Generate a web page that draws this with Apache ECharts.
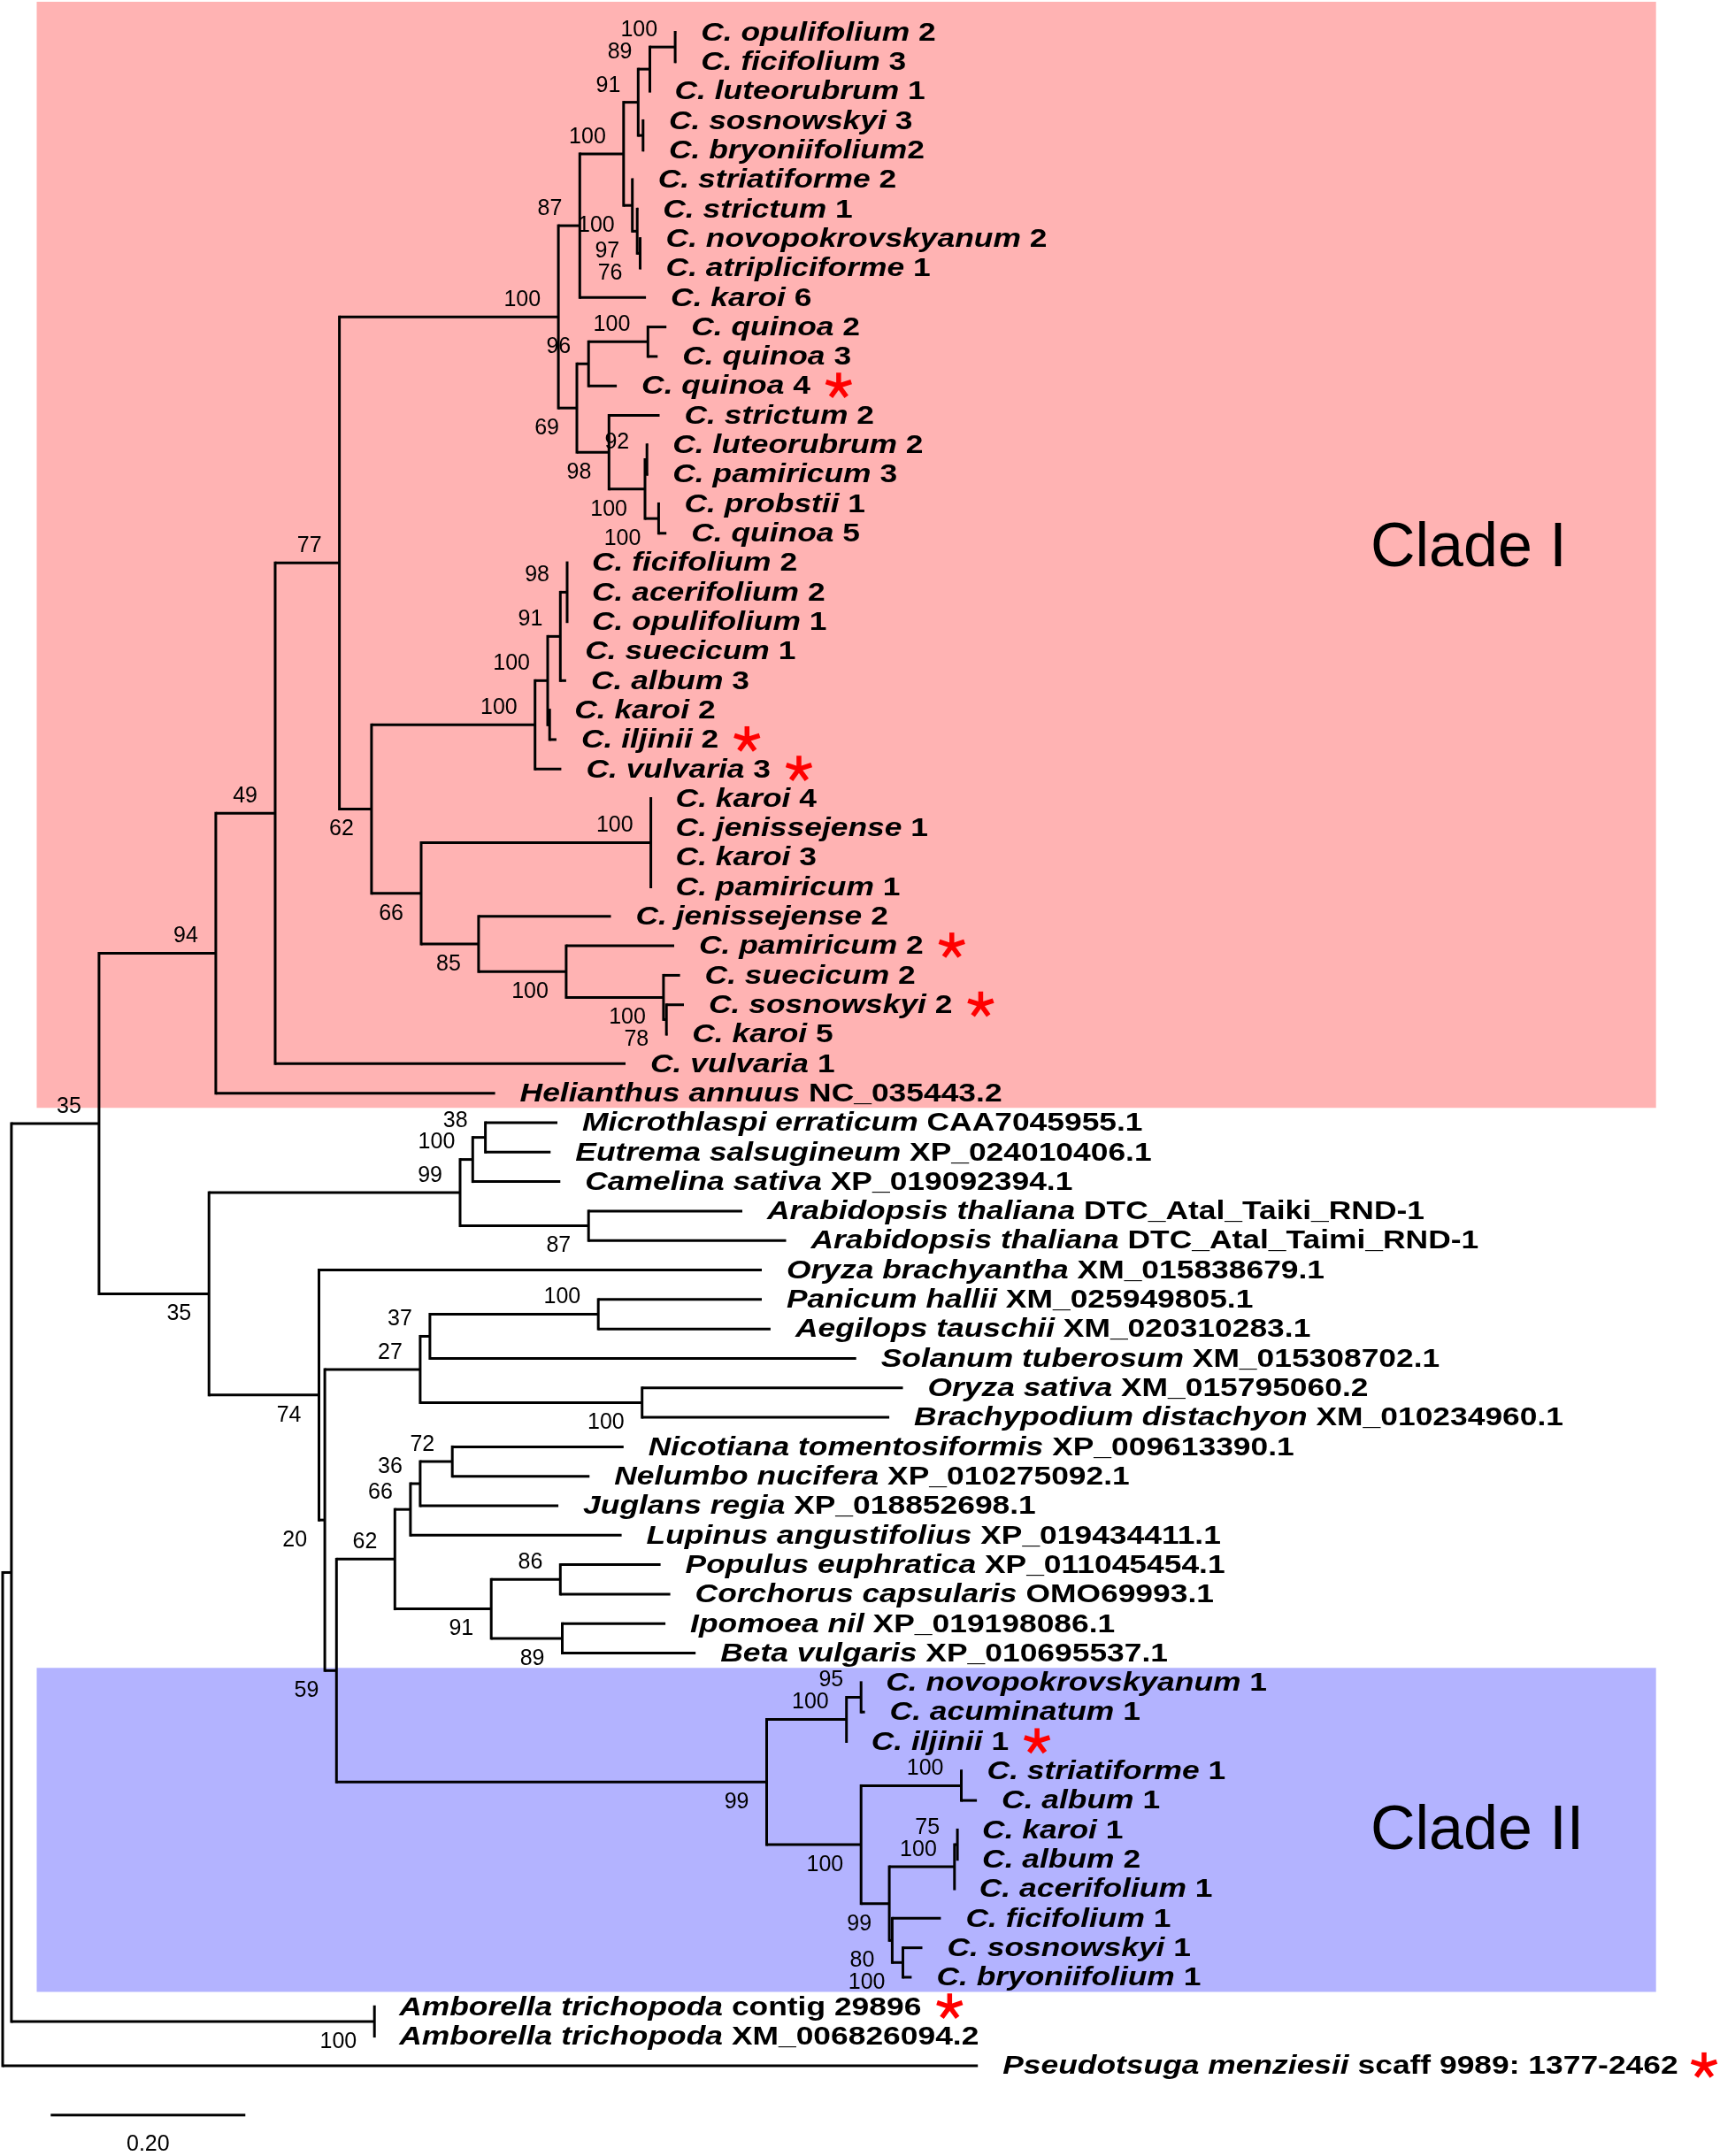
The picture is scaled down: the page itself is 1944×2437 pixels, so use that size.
<!DOCTYPE html>
<html><head><meta charset="utf-8">
<script src="https://cdn.jsdelivr.net/npm/echarts@6/dist/echarts.min.js"></script>
<style>html,body{margin:0;padding:0;background:#fff}#c{width:1944px;height:2437px}</style>
</head><body><div id="c"></div>
<script>
// ---------------- DATA ----------------
// leaf labels: [italic species part, upright suffix], top to bottom
const leafNames = [
  ['C. opulifolium',' 2'],['C. ficifolium',' 3'],['C. luteorubrum',' 1'],['C. sosnowskyi',' 3'],
  ['C. bryoniifolium','2'],['C. striatiforme',' 2'],['C. strictum',' 1'],['C. novopokrovskyanum',' 2'],
  ['C. atripliciforme',' 1'],['C. karoi',' 6'],['C. quinoa',' 2'],['C. quinoa',' 3'],
  ['C. quinoa',' 4'],['C. strictum',' 2'],['C. luteorubrum',' 2'],['C. pamiricum',' 3'],
  ['C. probstii',' 1'],['C. quinoa',' 5'],['C. ficifolium',' 2'],['C. acerifolium',' 2'],
  ['C. opulifolium',' 1'],['C. suecicum',' 1'],['C. album',' 3'],['C. karoi',' 2'],
  ['C. iljinii',' 2'],['C. vulvaria',' 3'],['C. karoi',' 4'],['C. jenissejense',' 1'],
  ['C. karoi',' 3'],['C. pamiricum',' 1'],['C. jenissejense',' 2'],['C. pamiricum',' 2'],
  ['C. suecicum',' 2'],['C. sosnowskyi',' 2'],['C. karoi',' 5'],['C. vulvaria',' 1'],
  ['Helianthus annuus',' NC_035443.2'],['Microthlaspi erraticum',' CAA7045955.1'],
  ['Eutrema salsugineum',' XP_024010406.1'],['Camelina sativa',' XP_019092394.1'],
  ['Arabidopsis thaliana',' DTC_Atal_Taiki_RND-1'],['Arabidopsis thaliana',' DTC_Atal_Taimi_RND-1'],
  ['Oryza brachyantha',' XM_015838679.1'],['Panicum hallii',' XM_025949805.1'],
  ['Aegilops tauschii',' XM_020310283.1'],['Solanum tuberosum',' XM_015308702.1'],
  ['Oryza sativa',' XM_015795060.2'],['Brachypodium distachyon',' XM_010234960.1'],
  ['Nicotiana tomentosiformis',' XP_009613390.1'],['Nelumbo nucifera',' XP_010275092.1'],
  ['Juglans regia',' XP_018852698.1'],['Lupinus angustifolius',' XP_019434411.1'],
  ['Populus euphratica',' XP_011045454.1'],['Corchorus capsularis',' OMO69993.1'],
  ['Ipomoea nil',' XP_019198086.1'],['Beta vulgaris',' XP_010695537.1'],
  ['C. novopokrovskyanum',' 1'],['C. acuminatum',' 1'],['C. iljinii',' 1'],['C. striatiforme',' 1'],
  ['C. album',' 1'],['C. karoi',' 1'],['C. album',' 2'],['C. acerifolium',' 1'],
  ['C. ficifolium',' 1'],['C. sosnowskyi',' 1'],['C. bryoniifolium',' 1'],
  ['Amborella trichopoda',' contig 29896'],['Amborella trichopoda',' XM_006826094.2'],
  ['Pseudotsuga menziesii',' scaff 9989: 1377-2462']
];
// distance from root to each leaf tip (substitutions/site)
const leafTip = [
  0.692,0.692,0.665,0.659,0.659,0.648,0.653,0.656,0.656,0.661,
  0.682,0.673,0.631,0.675,0.663,0.663,0.675,0.682,0.580,0.580,
  0.580,0.573,0.579,0.562,0.569,0.574,0.666,0.666,0.666,0.666,
  0.625,0.690,0.696,0.700,0.683,0.640,0.506,0.570,0.563,0.573,
  0.760,0.805,0.780,0.780,0.789,0.877,0.925,0.911,0.638,0.603,
  0.571,0.636,0.676,0.686,0.681,0.712,0.882,0.886,0.867,0.986,
  1.001,0.981,0.981,0.978,0.964,0.945,0.934,0.382,0.382,1.002
];
// leaves marked with a red asterisk
const starredLeaves = [12,24,25,31,33,58,67,69];
// internal nodes: [id, distance from root, bootstrap, children (leaf index or node id)]
const innerNodes = [
  ['Root',0.000,null,['R1',69]],
  ['R1',0.009,null,['G','Amb']],
  ['G',0.099,35,['F','H']],
  ['F',0.219,94,['C0',36]],
  ['C0',0.280,49,['C1',35]],
  ['C1',0.346,77,['B2','C2']],
  ['B2',0.571,100,['B1','Q3']],
  ['B1',0.593,87,['A5',9]],
  ['A5',0.638,100,['A3','A6']],
  ['A3',0.653,91,['A2','A4']],
  ['A2',0.665,89,['A1',2]],
  ['A1',0.691,100,[0,1]],
  ['A4',0.658,null,[3,4]],
  ['A6',0.647,100,[5,'A7']],
  ['A7',0.652,97,[6,'A8']],
  ['A8',0.655,76,[7,8]],
  ['Q3',0.590,69,['Q2','Q4']],
  ['Q2',0.602,96,['Q1',12]],
  ['Q1',0.663,100,[10,11]],
  ['Q4',0.623,98,[13,'Q5']],
  ['Q5',0.660,100,['Q6','Q7']],
  ['Q6',0.662,92,[14,15]],
  ['Q7',0.674,100,[16,17]],
  ['C2',0.379,62,['D1','E1']],
  ['D1',0.547,100,['D2',25]],
  ['D2',0.560,100,['D3','D4']],
  ['D3',0.573,91,['D6',21,22]],
  ['D6',0.580,98,[18,19,20]],
  ['D4',0.562,null,[23,24]],
  ['E1',0.430,66,['E2','E3']],
  ['E2',0.666,100,[26,27,28,29]],
  ['E3',0.489,85,[30,'E4']],
  ['E4',0.579,100,[31,'E5']],
  ['E5',0.679,100,[32,'E6']],
  ['E6',0.682,78,[33,34]],
  ['H',0.212,35,['I','J']],
  ['I',0.470,99,['I2','I4']],
  ['I2',0.483,100,['I3',39]],
  ['I3',0.496,38,[37,38]],
  ['I4',0.602,87,[40,41]],
  ['J',0.325,74,[42,'K']],
  ['K',0.331,20,['L','N']],
  ['L',0.429,27,['L1','L2']],
  ['L1',0.439,37,['L3',45]],
  ['L3',0.612,100,[43,44]],
  ['L2',0.657,100,[46,47]],
  ['N',0.343,59,['O','P']],
  ['O',0.403,62,['O1','O2']],
  ['O1',0.419,66,['O3',51]],
  ['O3',0.429,36,['O4',50]],
  ['O4',0.462,72,[48,49]],
  ['O2',0.502,91,['O5','O6']],
  ['O5',0.573,86,[52,53]],
  ['O6',0.575,89,[54,55]],
  ['P',0.785,99,['P1','P2']],
  ['P1',0.867,100,['P3',58]],
  ['P3',0.882,95,[56,57]],
  ['P2',0.882,100,['P4','P5']],
  ['P4',0.985,100,[59,60]],
  ['P5',0.911,99,['P6','P9']],
  ['P6',0.978,100,['P8',63]],
  ['P8',0.981,75,[61,62]],
  ['P9',0.914,80,[64,'P7']],
  ['P7',0.925,100,[65,66]],
  ['Amb',0.382,100,[67,68]]
];
// highlighted clades: label, first leaf, last leaf
const cladeNames = ['Clade I','Clade II'];
const cladeFirstLeaf = [0, 56];
const cladeLastLeaf = [36, 66];
const cladeColors = ['#FFB3B3','#B3B3FF'];
const scaleBarLength = 0.20;

// ---------------- LAYOUT ----------------
const W = 1944, Hh = 2437;
const PX_PER_UNIT = 1100, ROOT_X = 3, ROW = 33.31, FIRST_ROW_Y = 36.5;
const FONT = '"Liberation Sans", Arial, Helvetica, sans-serif';
const LEAF_FS = 30, LEAF_SX = 1.18, LEAF_GAP = 28;

const nodeMap = {};
innerNodes.forEach(n => { nodeMap[n[0]] = {id:n[0], depth:n[1], support:n[2], children:n[3]}; });
function depthOf(r){ return typeof r === 'number' ? leafTip[r] : nodeMap[r].depth; }
function yOf(r){
  if (typeof r === 'number') return r;
  const n = nodeMap[r];
  if (n.y == null) { const c = n.children; n.y = (yOf(c[0]) + yOf(c[c.length-1])) / 2; }
  return n.y;
}
const segData = [], supportData = [];
innerNodes.forEach(row => {
  const n = nodeMap[row[0]];
  const c = n.children;
  segData.push([n.depth, yOf(c[0]), n.depth, yOf(c[c.length-1]), 1]);
  c.forEach((ch, k) => {
    const d = depthOf(ch), y = yOf(ch);
    if (d > n.depth) segData.push([n.depth, y, d, y, 0]);
    if (typeof ch !== 'number' && nodeMap[ch].support != null) {
      supportData.push([d, y, nodeMap[ch].support, k === 0 ? 1 : 0]);
    }
  });
});
const leafData = leafTip.map((t, i) => [t, i]);
const starSet = new Set(starredLeaves);

const mctx = document.createElement('canvas').getContext('2d');
function tw(s, italic){ mctx.font = (italic ? 'italic ' : '') + 'bold ' + LEAF_FS + 'px ' + FONT; return mctx.measureText(s).width; }

const xMin = -ROOT_X / PX_PER_UNIT, xMax = (W - ROOT_X) / PX_PER_UNIT;
const yMin = -FIRST_ROW_Y / ROW, yMax = (Hh - FIRST_ROW_Y) / ROW;

// clade boxes (x extent in tree units)
const boxX0 = (41.5 - ROOT_X) / PX_PER_UNIT, boxX1 = (1871.7 - ROOT_X) / PX_PER_UNIT;
const cladeData = cladeNames.map((nm, k) => [
  boxX0, boxX1,
  k === 0 ? yMin + 2 / ROW : cladeFirstLeaf[k] - 0.5,
  cladeLastLeaf[k] + 0.5, k
]);

const chart = echarts.init(document.getElementById('c'), null, {renderer:'canvas'});
chart.setOption({
  animation: false,
  backgroundColor: '#fff',
  grid: {left:0, top:0, width:W, height:Hh},
  xAxis: {type:'value', min:xMin, max:xMax, show:false},
  yAxis: {type:'value', min:yMin, max:yMax, inverse:true, show:false},
  series: [
    { // clade boxes
      type:'custom', z:1, data:cladeData, silent:true,
      renderItem(params, api){
        const k = api.value(4);
        const a = api.coord([api.value(0), api.value(2)]);
        const b = api.coord([api.value(1), api.value(3)]);
        const ly = k === 0 ? 17.53 : (cladeFirstLeaf[k] + cladeLastLeaf[k]) / 2 + 0.08;
        const lp = api.coord([(1549 - ROOT_X) / PX_PER_UNIT, ly]);
        return {type:'group', children:[
          {type:'rect', shape:{x:a[0], y:a[1], width:b[0]-a[0], height:b[1]-a[1]}, style:{fill:cladeColors[k]}},
          {type:'text', x:lp[0], y:lp[1], style:{text:cladeNames[k], font:'70px ' + FONT, fill:'#000',
            textAlign:'left', textVerticalAlign:'middle'}}
        ]};
      }
    },
    { // branches
      type:'custom', z:2, data:segData, silent:true,
      renderItem(params, api){
        const a = api.coord([api.value(0), api.value(1)]);
        const b = api.coord([api.value(2), api.value(3)]);
        return {type:'line', shape:{x1:a[0], y1:a[1], x2:b[0], y2:b[1]},
          style:{stroke:'#000', lineWidth:3, lineCap: api.value(4) ? 'square' : 'butt'}};
      }
    },
    { // leaf labels and asterisks
      type:'custom', z:3, data:leafData, silent:true,
      renderItem(params, api){
        const i = api.value(1);
        const p = api.coord([api.value(0), i]);
        const nm = leafNames[i];
        const x0 = p[0] + LEAF_GAP;
        const kids = [{type:'text', x:x0, y:p[1] + 1, scaleX:LEAF_SX, scaleY:1,
          style:{text:'{i|' + nm[0] + '}{p|' + nm[1] + '}', fill:'#000', textAlign:'left', textVerticalAlign:'middle',
            rich:{i:{font:'italic bold ' + LEAF_FS + 'px ' + FONT, fill:'#000'},
                  p:{font:'bold ' + LEAF_FS + 'px ' + FONT, fill:'#000'}}}}];
        if (starSet.has(i)) {
          const w = (tw(nm[0], true) + tw(nm[1], false)) * LEAF_SX;
          const cx = Math.min(x0 + w + 32, W - 18), cy = p[1], r = 15;
          [90, 18, -54, -126, 162].forEach(deg => {
            const t = deg * Math.PI / 180;
            kids.push({type:'line', shape:{x1:cx, y1:cy, x2:cx + r*Math.cos(t), y2:cy - r*Math.sin(t)},
              style:{stroke:'#FF0000', lineWidth:5.5}});
          });
        }
        return {type:'group', children:kids};
      }
    },
    { // bootstrap values
      type:'custom', z:3, data:supportData, silent:true,
      renderItem(params, api){
        const p = api.coord([api.value(0), api.value(1)]);
        const up = api.value(3) === 1;
        return {type:'text', x:p[0] - 20, y:p[1] + (up ? -19 : 23),
          style:{text:String(api.value(2)), font:'25px ' + FONT, fill:'#000', textAlign:'right', textVerticalAlign:'middle'}};
      }
    },
    { // scale bar
      type:'custom', z:3, data:[[(57.3 - ROOT_X) / PX_PER_UNIT, (2390.7 - FIRST_ROW_Y) / ROW, scaleBarLength]], silent:true,
      renderItem(params, api){
        const a = api.coord([api.value(0), api.value(1)]);
        const b = api.coord([api.value(0) + api.value(2), api.value(1)]);
        return {type:'group', children:[
          {type:'line', shape:{x1:a[0], y1:a[1], x2:b[0], y2:b[1]}, style:{stroke:'#000', lineWidth:3}},
          {type:'text', x:(a[0]+b[0])/2, y:a[1] + 33, style:{text:api.value(2).toFixed(2), font:'25px ' + FONT, fill:'#000',
            textAlign:'center', textVerticalAlign:'middle'}}
        ]};
      }
    }
  ]
});
</script></body></html>
